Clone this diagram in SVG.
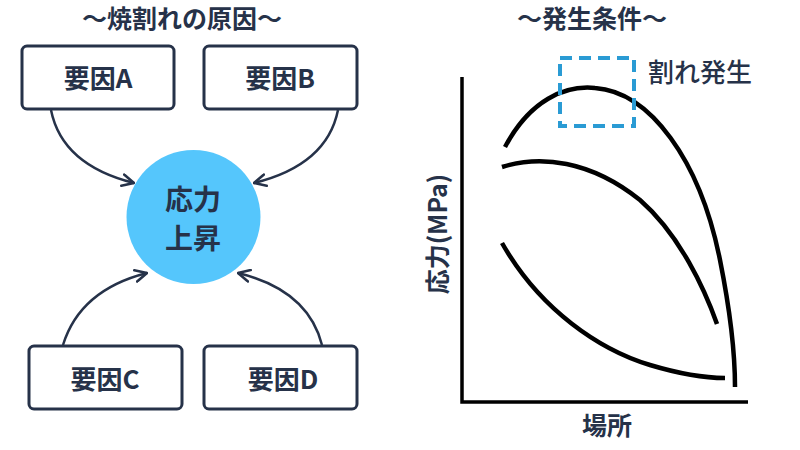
<svg xmlns="http://www.w3.org/2000/svg" width="800" height="450" viewBox="0 0 800 450">
<defs>
<style>
.t{font-family:"Noto Sans CJK JP","Noto Sans",sans-serif;fill:#263249;font-weight:bold;text-anchor:middle}
.box{fill:#fff;stroke:#263249;stroke-width:3}
.con{fill:none;stroke:#263249;stroke-width:2.5}
.crv{fill:none;stroke:#000;stroke-width:4.5;stroke-linecap:butt}
</style>
<marker id="ah" viewBox="0 0 12 12" refX="11" refY="6" markerWidth="14" markerHeight="14" markerUnits="userSpaceOnUse" orient="auto">
<path d="M1,1 L11,6 L1,11" fill="none" stroke="#263249" stroke-width="2.2" stroke-linecap="round" stroke-linejoin="round"/>
</marker>
</defs>
<rect width="800" height="450" fill="#fff"/>
<text class="t" x="182" y="28" font-size="25">〜焼割れの原因〜</text>
<text class="t" x="592" y="28" font-size="25">〜発生条件〜</text>
<g id="nodeA"><rect class="box" x="22" y="46" width="152" height="63" rx="5"/><text class="t" x="98" y="88" font-size="26">要因A</text></g>
<g id="nodeB"><rect class="box" x="204" y="46" width="153" height="63" rx="5"/><text class="t" x="280" y="88" font-size="26">要因B</text></g>
<g id="nodeC"><rect class="box" x="29" y="346" width="153" height="63" rx="5"/><text class="t" x="105" y="389" font-size="26">要因C</text></g>
<g id="nodeD"><rect class="box" x="204" y="346" width="153" height="63" rx="5"/><text class="t" x="283" y="389" font-size="26">要因D</text></g>
<g id="center"><circle cx="193.5" cy="217" r="67" fill="#55c6fc"/><text class="t" x="193" y="210" font-size="28" font-weight="500">応力</text><text class="t" x="193" y="249" font-size="28">上昇</text></g>
<g id="connectors">
<path class="con" d="M51,110 Q62,165 134,183" marker-end="url(#ah)"/>
<path class="con" d="M338,110 Q327,165 254,183" marker-end="url(#ah)"/>
<path class="con" d="M63,345 Q80,290 147,273" marker-end="url(#ah)"/>
<path class="con" d="M322,345 Q308,290 238,273" marker-end="url(#ah)"/>
</g>
<g id="chart">
<path d="M462,77 L462,402 L748,402" fill="none" stroke="#000" stroke-width="3.5"/>
<path class="crv" d="M505,147 C530,100 565,85 595,88 C650,92 700,160 720,260 C730,310 735,350 735,387"/>
<path class="crv" d="M502,167 C540,155 590,160 640,200 C680,235 705,290 717,324"/>
<path class="crv" d="M502,243 C540,310 600,350 650,365 C680,374 705,378 725,378"/>
<rect x="560" y="58" width="74" height="68" fill="none" stroke="#2a9bd4" stroke-width="4" stroke-dasharray="12,7"/>
<text x="648" y="82" font-size="26" font-family="'Noto Sans CJK JP',sans-serif" font-weight="500" fill="#263249">割れ発生</text>
<text class="t" x="607" y="435" font-size="25" font-weight="500">場所</text>
<text class="t" transform="translate(447,234) rotate(-90)" font-size="25">応力(MPa)</text>
</g>
</svg>
